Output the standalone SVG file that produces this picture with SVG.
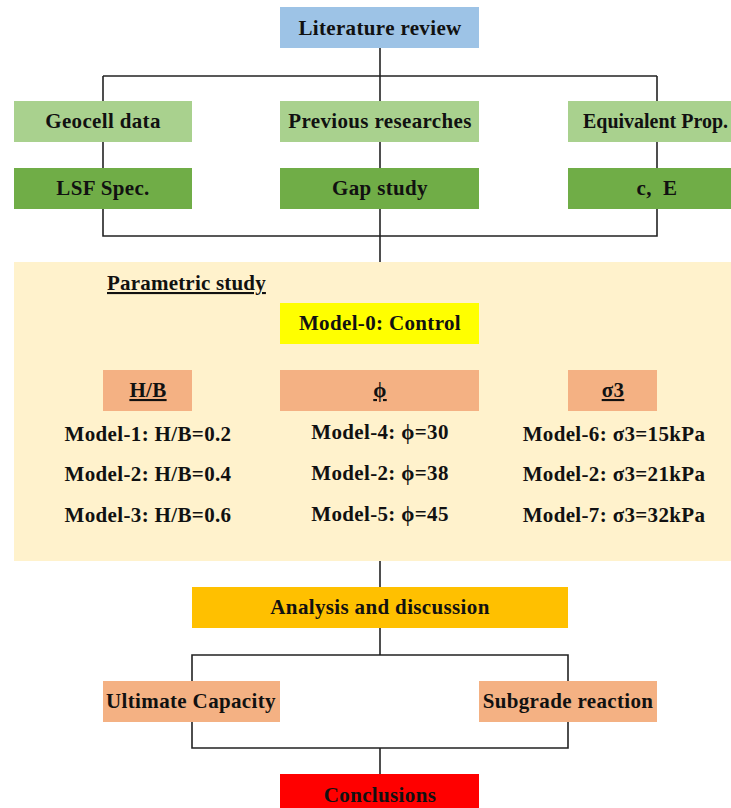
<svg xmlns="http://www.w3.org/2000/svg" width="731" height="808" viewBox="0 0 731 808">
<style>
text{font-family:"Liberation Serif","Times New Roman",serif;font-weight:bold;font-size:21px;letter-spacing:0.35px;fill:#111;text-anchor:middle}
.u{text-decoration:underline}
.l{text-anchor:start;letter-spacing:0.2px}
.c line,.c polyline{stroke:#222;stroke-width:1.6;fill:none}
</style>
<rect width="731" height="808" fill="#fff"/>
<g id="parametric">
<rect x="14" y="262" width="720" height="299" fill="#FFF2CC"/>
<text class="l u" x="107" y="290">Parametric study</text>
</g>
<g class="c" id="connectors">
<line x1="380" y1="48" x2="380" y2="76"/>
<line x1="103" y1="76" x2="657" y2="76"/>
<line x1="103" y1="76" x2="103" y2="101"/>
<line x1="380" y1="76" x2="380" y2="101"/>
<line x1="657" y1="76" x2="657" y2="101"/>
<line x1="103" y1="142" x2="103" y2="168"/>
<line x1="380" y1="142" x2="380" y2="168"/>
<line x1="657" y1="142" x2="657" y2="168"/>
<polyline points="103,209 103,236 657,236 657,209"/>
<line x1="380" y1="209" x2="380" y2="262"/>
<line x1="380" y1="561" x2="380" y2="587"/>
<line x1="380" y1="628" x2="380" y2="655"/>
<polyline points="192,681 192,655 568,655 568,681"/>
<polyline points="192,722 192,748 568,748 568,722"/>
<line x1="380" y1="748" x2="380" y2="774"/>
</g>
<g id="lit"><rect x="280" y="7" width="199" height="41" fill="#9DC3E6"/><text x="380" y="35">Literature review</text></g>
<g id="geocell"><rect x="14" y="101" width="178" height="41" fill="#A9D18E"/><text x="103" y="128">Geocell data</text></g>
<g id="prev"><rect x="280" y="101" width="199" height="41" fill="#A9D18E"/><text x="380" y="128">Previous researches</text></g>
<g id="equiv"><rect x="568" y="101" width="178" height="41" fill="#A9D18E"/><text x="583" y="128" style="text-anchor:start;letter-spacing:0;font-size:20px" textLength="145" lengthAdjust="spacingAndGlyphs">Equivalent Prop.</text></g>
<g id="lsf"><rect x="14" y="168" width="178" height="41" fill="#70AD47"/><text x="103" y="195">LSF Spec.</text></g>
<g id="gap"><rect x="280" y="168" width="199" height="41" fill="#70AD47"/><text x="380" y="195">Gap study</text></g>
<g id="ce"><rect x="568" y="168" width="178" height="41" fill="#70AD47"/><text x="657" y="195">c,&#160; E</text></g>
<g id="model0"><rect x="280" y="303" width="199" height="41" fill="#FFFF00"/><text x="380" y="330">Model-0: Control</text></g>
<g id="hb"><rect x="103" y="370" width="89" height="41" fill="#F4B183"/><text class="u" x="148" y="397">H/B</text></g>
<g id="phi"><rect x="280" y="370" width="199" height="41" fill="#F4B183"/><text class="u" x="380" y="397">ϕ</text></g>
<g id="sigma"><rect x="568" y="370" width="89" height="41" fill="#F4B183"/><text class="u" x="613" y="397">σ3</text></g>
<g id="hb-models">
<text x="148" y="441">Model-1: H/B=0.2</text>
<text x="148" y="481">Model-2: H/B=0.4</text>
<text x="148" y="522">Model-3: H/B=0.6</text>
</g>
<g id="phi-models">
<text x="380" y="439">Model-4: ϕ=30</text>
<text x="380" y="480">Model-2: ϕ=38</text>
<text x="380" y="521">Model-5: ϕ=45</text>
</g>
<g id="sigma-models">
<text x="614" y="441">Model-6: σ3=15kPa</text>
<text x="614" y="481">Model-2: σ3=21kPa</text>
<text x="614" y="522">Model-7: σ3=32kPa</text>
</g>
<g id="analysis"><rect x="192" y="587" width="376" height="41" fill="#FFC000"/><text x="380" y="614">Analysis and discussion</text></g>
<g id="ultimate"><rect x="103" y="681" width="177" height="41" fill="#F4B183"/><text x="191" y="708">Ultimate Capacity</text></g>
<g id="subgrade"><rect x="479" y="681" width="178" height="41" fill="#F4B183"/><text x="568" y="708">Subgrade reaction</text></g>
<g id="conclusions"><rect x="280" y="774" width="199" height="41" fill="#FF0000"/><text x="380" y="802">Conclusions</text></g>
</svg>
